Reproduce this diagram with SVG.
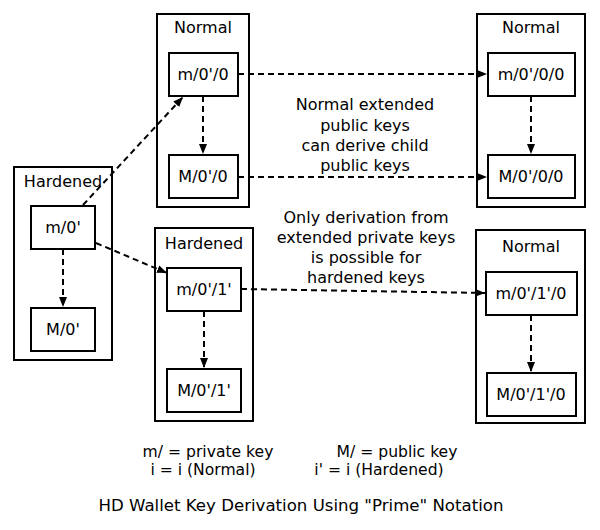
<svg xmlns="http://www.w3.org/2000/svg" width="600" height="530" viewBox="0 0 600 530">
<defs>
<style>
text{font-family:"DejaVu Sans","Liberation Sans",sans-serif;font-size:16px;fill:#000;text-anchor:middle}
.cl{fill:#fff;stroke:#000;stroke-width:2}
.nd{fill:#fff;stroke:#000;stroke-width:2}
.ed{fill:none;stroke:#000;stroke-width:2;stroke-dasharray:6,4;marker-end:url(#ah)}
.lg{font-size:15.6px}
</style>
<marker id="ah" markerUnits="userSpaceOnUse" markerWidth="11" markerHeight="8" refX="10" refY="4" orient="auto">
<path d="M0,0 L10,4 L0,8 z" fill="#000"/>
</marker>
</defs>
<rect width="600" height="530" fill="#fff"/>
<g id="clusters">
<g id="c1"><rect class="cl" x="14" y="167" width="98" height="193"/><text x="63" y="187">Hardened</text></g>
<g id="c2"><rect class="cl" x="157" y="14" width="92" height="193"/><text x="203" y="33">Normal</text></g>
<g id="c3"><rect class="cl" x="155" y="228" width="98" height="193"/><text x="204" y="249">Hardened</text></g>
<g id="c4"><rect class="cl" x="477" y="14" width="108" height="193"/><text x="531" y="33">Normal</text></g>
<g id="c5"><rect class="cl" x="476" y="230" width="109" height="193"/><text x="531" y="252">Normal</text></g>
</g>
<g id="n1"><rect class="nd" x="31" y="206" width="64" height="43"/><text x="63" y="233">m/0'</text></g>
<g id="n2"><rect class="nd" x="31" y="308" width="64" height="43"/><text x="63" y="335">M/0'</text></g>
<g id="n3"><rect class="nd" x="169" y="53" width="69" height="43"/><text x="203" y="80">m/0'/0</text></g>
<g id="n4"><rect class="nd" x="169" y="155" width="69" height="43"/><text x="203" y="182">M/0'/0</text></g>
<g id="n5"><rect class="nd" x="167" y="268" width="74" height="43"/><text x="204" y="295">m/0'/1'</text></g>
<g id="n6"><rect class="nd" x="167" y="369" width="74" height="43"/><text x="204" y="396">M/0'/1'</text></g>
<g id="n7"><rect class="nd" x="488" y="53" width="87" height="43"/><text x="531" y="80">m/0'/0/0</text></g>
<g id="n8"><rect class="nd" x="488" y="155" width="87" height="43"/><text x="531" y="182">M/0'/0/0</text></g>
<g id="n9"><rect class="nd" x="486" y="272" width="91" height="43"/><text x="531" y="299">m/0'/1'/0</text></g>
<g id="n10"><rect class="nd" x="487" y="373" width="89" height="43"/><text x="531" y="400">M/0'/1'/0</text></g>
<g id="edges">
<line class="ed" x1="83" y1="205" x2="183" y2="97"/>
<line class="ed" x1="96" y1="243" x2="167" y2="273"/>
<line class="ed" x1="63" y1="249" x2="63" y2="307"/>
<line class="ed" x1="203" y1="96" x2="203" y2="154"/>
<line class="ed" x1="238" y1="74" x2="487" y2="74"/>
<line class="ed" x1="238" y1="177" x2="487" y2="177"/>
<line class="ed" x1="204" y1="311" x2="204" y2="368"/>
<line class="ed" x1="241" y1="289" x2="485" y2="293"/>
<line class="ed" x1="531" y1="96" x2="531" y2="154"/>
<line class="ed" x1="531" y1="315" x2="531" y2="372"/>
</g>
<g id="labels">
<text x="365" y="110">Normal extended</text>
<text x="365" y="131">public keys</text>
<text x="365" y="151">can derive child</text>
<text x="365" y="171">public keys</text>
<text x="366" y="223">Only derivation from</text>
<text x="366" y="243">extended private keys</text>
<text x="366" y="263">is possible for</text>
<text x="366" y="283">hardened keys</text>
<text class="lg" x="208" y="457">m/ = private key</text>
<text class="lg" x="203" y="475">i = i (Normal)</text>
<text class="lg" x="397" y="457">M/ = public key</text>
<text class="lg" x="379" y="475">i' = i (Hardened)</text>
<text x="301" y="511" style="font-size:16.6px">HD Wallet Key Derivation Using "Prime" Notation</text>
</g>
</svg>
